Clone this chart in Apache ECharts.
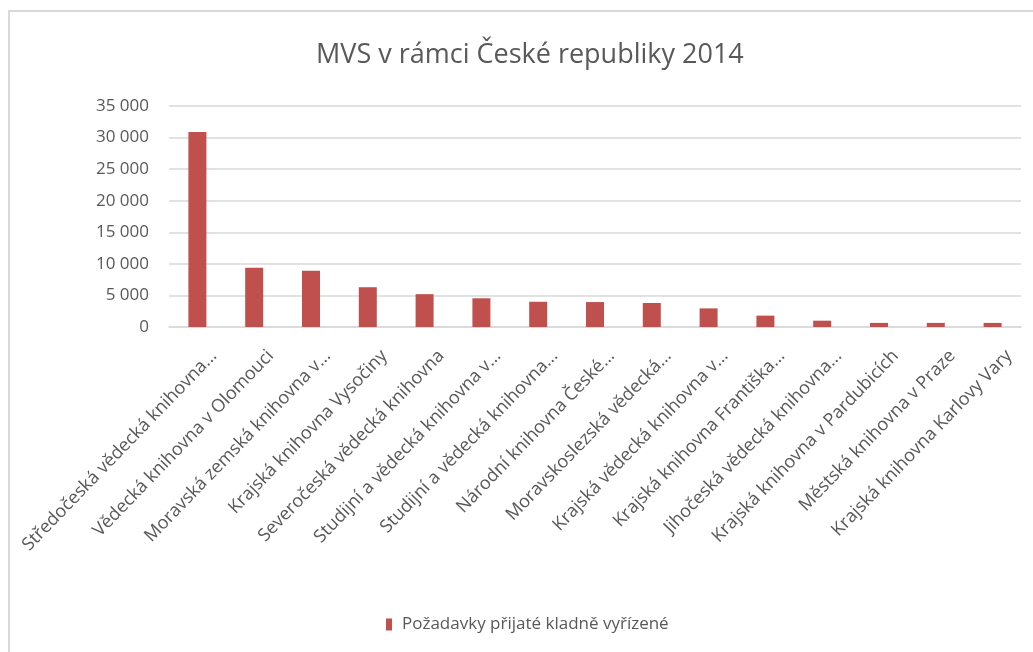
<!DOCTYPE html>
<html>
<head>
<meta charset="utf-8">
<script src="https://cdn.jsdelivr.net/npm/echarts@6/dist/echarts.min.js"></script>
<style>
  html, body { margin: 0; padding: 0; background: #fff; }
  #chart { width: 1033px; height: 652px; }
</style>
</head>
<body>
<div id="chart"></div>
<script>
const categories = [
    'Středočeská vědecká knihovna...',
    'Vědecká knihovna v Olomouci',
    'Moravská zemská knihovna v...',
    'Krajská knihovna Vysočiny',
    'Severočeská vědecká knihovna',
    'Studijní a vědecká knihovna v...',
    'Studijní a vědecká knihovna...',
    'Národní knihovna České...',
    'Moravskoslezská vědecká...',
    'Krajská vědecká knihovna v...',
    'Krajská knihovna Františka...',
    'Jihočeská vědecká knihovna...',
    'Krajská knihovna v Pardubicích',
    'Městská knihovna v Praze',
    'Krajská knihovna Karlovy Vary'
];
const requests = [30900, 9400, 8900, 6300, 5200, 4550, 4000, 3950, 3800, 2950, 1800, 1000, 650, 650, 650];
const yTicks = [0, 5000, 10000, 15000, 20000, 25000, 30000, 35000];

const FONT = '"Open Sans", sans-serif';
const TEXT = '#595959';
const GRID = '#d9d9d9';
const BAR = '#c0504d';

const myChart = echarts.init(document.getElementById('chart'));

myChart.setOption({
    backgroundColor: '#ffffff',
    animation: false,
    graphic: [{
        type: 'rect',
        shape: {x: 9, y: 11, width: 1100, height: 1000},
        style: {fill: 'none', stroke: GRID, lineWidth: 2},
        silent: true
    }],
    title: {
        text: 'MVS v rámci České republiky 2014',
        left: 311,
        top: 37,
        textStyle: {fontFamily: FONT, fontSize: 27, fontWeight: 'normal', color: TEXT}
    },
    legend: {
        data: ['Požadavky přijaté kladně vyřízené'],
        left: 381,
        top: 611,
        icon: 'rect',
        itemWidth: 6,
        itemHeight: 12,
        textStyle: {fontFamily: FONT, fontSize: 17, color: TEXT, padding: [0, 0, 0, 5]}
    },
    grid: {left: 169, right: 12, top: 106, bottom: 325},
    xAxis: {
        type: 'category',
        data: categories,
        axisLine: {lineStyle: {color: GRID, width: 1.5}},
        axisTick: {show: false},
        axisLabel: {
            interval: 0,
            rotate: 46,
            margin: 10,
            verticalAlign: 'top',
            lineHeight: 22,
            padding: [12, 0, 0, 0],
            fontFamily: FONT,
            fontSize: 18,
            color: TEXT
        }
    },
    yAxis: {
        type: 'value',
        min: 0,
        max: 35000,
        interval: 5000,
        axisLine: {show: false},
        axisTick: {show: false},
        splitLine: {lineStyle: {color: GRID, width: 1.5}},
        axisLabel: {
            margin: 20,
            fontFamily: FONT,
            fontSize: 17,
            color: TEXT,
            formatter: v => yTicks.includes(v) ? String(v).replace(/\B(?=(\d{3})+(?!\d))/g, ' ') : ''
        }
    },
    series: [{
        name: 'Požadavky přijaté kladně vyřízené',
        type: 'bar',
        data: requests,
        barWidth: 18,
        itemStyle: {color: BAR}
    }]
});

window.addEventListener('resize', () => myChart.resize());
</script>
</body>
</html>
